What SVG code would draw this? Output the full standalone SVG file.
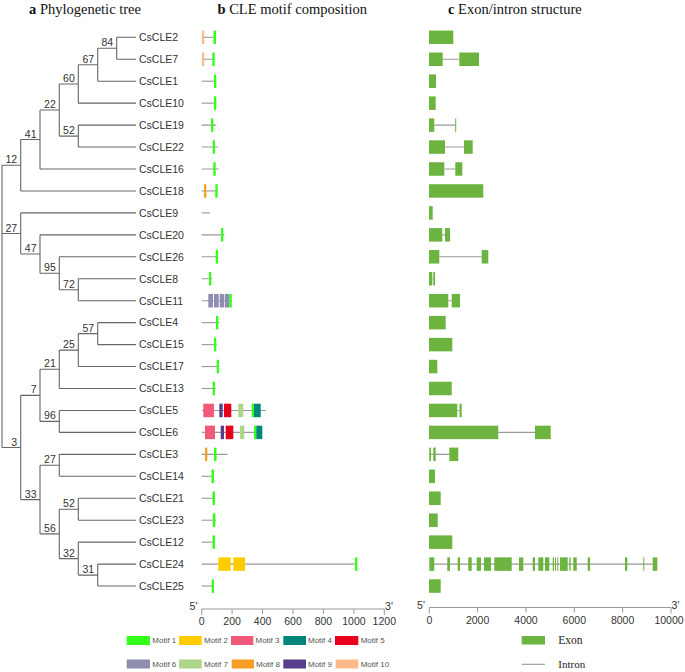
<svg xmlns="http://www.w3.org/2000/svg" width="685" height="672" viewBox="0 0 685 672">
<style>
text{font-family:"Liberation Sans",Arial,sans-serif;fill:#333}
.lf{font-size:10.5px}
.bs{font-size:10.5px;text-anchor:end}
.ti{font-family:"Liberation Serif","Times New Roman",serif;font-size:14.5px;fill:#111}
.ti tspan.b{font-weight:bold}
.tk{font-size:10.5px;text-anchor:middle}
.lg{font-size:8px;fill:#555}
.sl{font-family:"Liberation Serif","Times New Roman",serif;font-size:11.5px;fill:#222}
.tree{fill:none;stroke:#666;stroke-width:1.1}
.ln{stroke:#999;stroke-width:1.1;fill:none}
.ax{stroke:#999;stroke-width:1;fill:none}
.m1{fill:#33FF1A}.m2{fill:#FFCC00}.m3{fill:#F0597A}.m4{fill:#00857A}.m5{fill:#E8001C}
.m6{fill:#8F8DB0}.m7{fill:#ADD68A}.m8{fill:#F5A023}.m9{fill:#583F8C}.m10{fill:#FBBA8B}
.ex{fill:#6DB33F}
</style>
<rect width="685" height="672" fill="#fff"/>
<g id="titles">
<text class="ti" x="29" y="13.5"><tspan class="b">a</tspan> Phylogenetic tree</text>
<text class="ti" x="217.5" y="13.5"><tspan class="b">b</tspan> CLE motif composition</text>
<text class="ti" x="448" y="13.5"><tspan class="b">c</tspan> Exon/intron structure</text>
</g>
<g id="connectors">
<path class="tree" d="M116.7,37.3H136M116.7,59.25H136M97.7,81.2H136M78.3,103.15H136M78.3,125.1H136M78.3,147.05H136M40,169H136M20.7,190.95H136M20.7,212.9H136M40,234.85H136M59.3,256.8H136M78.3,278.75H136M78.3,300.7H136M97.7,322.65H136M97.7,344.6H136M78.3,366.55H136M59.3,388.5H136M59.3,410.45H136M59.3,432.4H136M59.3,454.35H136M59.3,476.3H136M78.3,498.25H136M78.3,520.2H136M78.3,542.15H136M97.7,564.1H136M97.7,586.05H136
M97.7,48.3H116.7M78.3,64.75H97.7M59.3,83.95H78.3M59.3,136.1H78.3M40,110H59.3M20.7,139.5H40M2,165.2H20.7M2,233.5H20.7M20.7,254.05H40M40,273.25H59.3M59.3,289.7H78.3M78.3,333.6H97.7M59.3,350.1H78.3M40,369.3H59.3M40,421.4H59.3M20.7,395.35H40M2,447.5H20.7M40,465.3H59.3M20.7,499.6H40M59.3,509.2H78.3M40,533.9H59.3M59.3,558.6H78.3M78.3,575.1H97.7
M116.7,37.3V59.25M97.7,48.3V81.2M78.3,64.75V103.15M78.3,125.1V147.05M59.3,83.95V136.1M40,110V169M20.7,139.5V190.95M2,165.2V447.5M20.7,212.9V254.05M40,234.85V273.25M59.3,256.8V289.7M78.3,278.75V300.7M97.7,322.65V344.6M78.3,333.6V366.55M59.3,350.1V388.5M59.3,410.45V432.4M40,369.3V421.4M20.7,395.35V499.6M59.3,454.35V476.3M40,465.3V533.9M78.3,498.25V520.2M59.3,509.2V558.6M78.3,542.15V575.1M97.7,564.1V586.05"/>
</g>
<g id="bootstrap">
<text class="bs" x="113.2" y="46.3">84</text>
<text class="bs" x="94.2" y="62.75">67</text>
<text class="bs" x="74.8" y="81.95">60</text>
<text class="bs" x="74.8" y="134.1">52</text>
<text class="bs" x="55.8" y="108">22</text>
<text class="bs" x="36.5" y="137.5">41</text>
<text class="bs" x="17.2" y="163.2">12</text>
<text class="bs" x="17.2" y="231.5">27</text>
<text class="bs" x="36.5" y="252.05">47</text>
<text class="bs" x="55.8" y="271.25">95</text>
<text class="bs" x="74.8" y="287.7">72</text>
<text class="bs" x="94.2" y="331.6">57</text>
<text class="bs" x="74.8" y="348.1">25</text>
<text class="bs" x="55.8" y="367.3">21</text>
<text class="bs" x="36.5" y="393.35">7</text>
<text class="bs" x="55.8" y="419.4">96</text>
<text class="bs" x="17.2" y="445.5">3</text>
<text class="bs" x="55.8" y="463.3">27</text>
<text class="bs" x="36.5" y="497.6">33</text>
<text class="bs" x="74.8" y="507.2">52</text>
<text class="bs" x="55.8" y="531.9">56</text>
<text class="bs" x="74.8" y="556.6">32</text>
<text class="bs" x="94.2" y="573.1">31</text>
</g>
<g id="CsCLE2"><text class="lf" x="139" y="41.1">CsCLE2</text><path class="ln" d="M201.7,37.3H216"/><rect class="m10" x="202" y="30.55" width="2.3" height="13.5"/><rect class="m1" x="213.5" y="30.55" width="2.5" height="13.5"/><rect class="ex" x="429" y="30.55" width="24.3" height="13.5"/></g>
<g id="CsCLE7"><text class="lf" x="139" y="63.05">CsCLE7</text><path class="ln" d="M201.7,59.25H214.7M442.7,59.25H459.3"/><rect class="m10" x="202" y="52.5" width="2.3" height="13.5"/><rect class="m1" x="212.3" y="52.5" width="2.4" height="13.5"/><rect class="ex" x="429" y="52.5" width="13.7" height="13.5"/><rect class="ex" x="459.3" y="52.5" width="19.7" height="13.5"/></g>
<g id="CsCLE1"><text class="lf" x="139" y="85">CsCLE1</text><path class="ln" d="M201.7,81.2H216.3"/><rect class="m1" x="214" y="74.45" width="2.3" height="13.5"/><rect class="ex" x="429" y="74.45" width="7" height="13.5"/></g>
<g id="CsCLE10"><text class="lf" x="139" y="106.95">CsCLE10</text><path class="ln" d="M201.7,103.15H216.3"/><rect class="m1" x="214" y="96.4" width="2.3" height="13.5"/><rect class="ex" x="429" y="96.4" width="6.7" height="13.5"/></g>
<g id="CsCLE19"><text class="lf" x="139" y="128.9">CsCLE19</text><path class="ln" d="M201.7,125.1H216M434.3,125.1H455.7"/><rect class="m1" x="211" y="118.35" width="2.3" height="13.5"/><rect class="ex" x="429" y="118.35" width="5.3" height="13.5"/><rect class="ex" x="455.2" y="118.35" width="1" height="13.5"/></g>
<g id="CsCLE22"><text class="lf" x="139" y="150.85">CsCLE22</text><path class="ln" d="M201.7,147.05H218M445,147.05H464"/><rect class="m1" x="212.7" y="140.3" width="2.3" height="13.5"/><rect class="ex" x="429" y="140.3" width="16" height="13.5"/><rect class="ex" x="464" y="140.3" width="8.7" height="13.5"/></g>
<g id="CsCLE16"><text class="lf" x="139" y="172.8">CsCLE16</text><path class="ln" d="M201.7,169H218.7M444.3,169H455.3"/><rect class="m1" x="213.3" y="162.25" width="2.4" height="13.5"/><rect class="ex" x="429" y="162.25" width="15.3" height="13.5"/><rect class="ex" x="455.3" y="162.25" width="7" height="13.5"/></g>
<g id="CsCLE18"><text class="lf" x="139" y="194.75">CsCLE18</text><path class="ln" d="M201.7,190.95H218"/><rect class="m8" x="204" y="184.2" width="2.3" height="13.5"/><rect class="m1" x="215.3" y="184.2" width="2.4" height="13.5"/><rect class="ex" x="429" y="184.2" width="54.3" height="13.5"/></g>
<g id="CsCLE9"><text class="lf" x="139" y="216.7">CsCLE9</text><path class="ln" d="M201.7,212.9H210"/><rect class="ex" x="429" y="206.15" width="3.7" height="13.5"/></g>
<g id="CsCLE20"><text class="lf" x="139" y="238.65">CsCLE20</text><path class="ln" d="M201.7,234.85H224.3M442.3,234.85H445"/><rect class="m1" x="221" y="228.1" width="2.3" height="13.5"/><rect class="ex" x="429" y="228.1" width="13.3" height="13.5"/><rect class="ex" x="445" y="228.1" width="5" height="13.5"/></g>
<g id="CsCLE26"><text class="lf" x="139" y="260.6">CsCLE26</text><path class="ln" d="M201.7,256.8H218.3M439.3,256.8H481.7"/><rect class="m1" x="215.7" y="250.05" width="2.3" height="13.5"/><rect class="ex" x="429" y="250.05" width="10.3" height="13.5"/><rect class="ex" x="481.7" y="250.05" width="6.6" height="13.5"/></g>
<g id="CsCLE8"><text class="lf" x="139" y="282.55">CsCLE8</text><path class="ln" d="M201.7,278.75H212M432.3,278.75H433.3"/><rect class="m1" x="209" y="272" width="2.3" height="13.5"/><rect class="ex" x="429" y="272" width="3.3" height="13.5"/><rect class="ex" x="433.3" y="272" width="1.7" height="13.5"/></g>
<g id="CsCLE11"><text class="lf" x="139" y="304.5">CsCLE11</text><path class="ln" d="M201.7,300.7H232.3M448.3,300.7H451.7"/><rect class="m6" x="208.3" y="293.95" width="4.7" height="13.5"/><rect class="m6" x="214" y="293.95" width="4.7" height="13.5"/><rect class="m6" x="219.7" y="293.95" width="4.6" height="13.5"/><rect class="m6" x="225" y="293.95" width="4.3" height="13.5"/><rect class="m1" x="229.3" y="293.95" width="2.5" height="13.5"/><rect class="ex" x="429" y="293.95" width="19.3" height="13.5"/><rect class="ex" x="451.7" y="293.95" width="8.3" height="13.5"/></g>
<g id="CsCLE4"><text class="lf" x="139" y="326.45">CsCLE4</text><path class="ln" d="M201.7,322.65H219.3"/><rect class="m1" x="216" y="315.9" width="2.3" height="13.5"/><rect class="ex" x="429" y="315.9" width="16.7" height="13.5"/></g>
<g id="CsCLE15"><text class="lf" x="139" y="348.4">CsCLE15</text><path class="ln" d="M201.7,344.6H216.7"/><rect class="m1" x="214" y="337.85" width="2.3" height="13.5"/><rect class="ex" x="429" y="337.85" width="23.3" height="13.5"/></g>
<g id="CsCLE17"><text class="lf" x="139" y="370.35">CsCLE17</text><path class="ln" d="M201.7,366.55H219.3"/><rect class="m1" x="216.7" y="359.8" width="2.3" height="13.5"/><rect class="ex" x="429" y="359.8" width="8.3" height="13.5"/></g>
<g id="CsCLE13"><text class="lf" x="139" y="392.3">CsCLE13</text><path class="ln" d="M201.7,388.5H215.7"/><rect class="m1" x="212.7" y="381.75" width="2.3" height="13.5"/><rect class="ex" x="429" y="381.75" width="22.7" height="13.5"/></g>
<g id="CsCLE5"><text class="lf" x="139" y="414.25">CsCLE5</text><path class="ln" d="M201.7,410.45H266M457.3,410.45H459.5"/><rect class="m3" x="203.3" y="403.7" width="10.7" height="13.5"/><rect class="m9" x="219.3" y="403.7" width="3.4" height="13.5"/><rect class="m5" x="224" y="403.7" width="7.3" height="13.5"/><rect class="m7" x="238.3" y="403.7" width="5" height="13.5"/><rect class="m1" x="251.7" y="403.7" width="2.3" height="13.5"/><rect class="m4" x="254" y="403.7" width="6.7" height="13.5"/><rect class="ex" x="429" y="403.7" width="28.3" height="13.5"/><rect class="ex" x="459.5" y="403.7" width="2.2" height="13.5"/></g>
<g id="CsCLE6"><text class="lf" x="139" y="436.2">CsCLE6</text><path class="ln" d="M201.7,432.4H262.3M498.3,432.4H535"/><rect class="m3" x="205" y="425.65" width="10" height="13.5"/><rect class="m9" x="220.7" y="425.65" width="3.3" height="13.5"/><rect class="m5" x="225.7" y="425.65" width="7.6" height="13.5"/><rect class="m7" x="240" y="425.65" width="4.3" height="13.5"/><rect class="m1" x="254" y="425.65" width="2.3" height="13.5"/><rect class="m4" x="256.3" y="425.65" width="6" height="13.5"/><rect class="ex" x="429" y="425.65" width="69.3" height="13.5"/><rect class="ex" x="535" y="425.65" width="15.7" height="13.5"/></g>
<g id="CsCLE3"><text class="lf" x="139" y="458.15">CsCLE3</text><path class="ln" d="M201.7,454.35H227.3M429,454.35H449.3"/><rect class="m8" x="205" y="447.6" width="2.3" height="13.5"/><rect class="m1" x="214" y="447.6" width="2.5" height="13.5"/><rect class="ex" x="429.3" y="447.6" width="1.7" height="13.5"/><rect class="ex" x="433.3" y="447.6" width="2.4" height="13.5"/><rect class="ex" x="449.3" y="447.6" width="9" height="13.5"/></g>
<g id="CsCLE14"><text class="lf" x="139" y="480.1">CsCLE14</text><path class="ln" d="M201.7,476.3H214"/><rect class="m1" x="211.5" y="469.55" width="2.5" height="13.5"/><rect class="ex" x="429" y="469.55" width="6" height="13.5"/></g>
<g id="CsCLE21"><text class="lf" x="139" y="502.05">CsCLE21</text><path class="ln" d="M201.7,498.25H215"/><rect class="m1" x="212.5" y="491.5" width="2.5" height="13.5"/><rect class="ex" x="429" y="491.5" width="11.7" height="13.5"/></g>
<g id="CsCLE23"><text class="lf" x="139" y="524">CsCLE23</text><path class="ln" d="M201.7,520.2H216"/><rect class="m1" x="212.8" y="513.45" width="2.5" height="13.5"/><rect class="ex" x="429" y="513.45" width="8.7" height="13.5"/></g>
<g id="CsCLE12"><text class="lf" x="139" y="545.95">CsCLE12</text><path class="ln" d="M201.7,542.15H215"/><rect class="m1" x="212.5" y="535.4" width="2.5" height="13.5"/><rect class="ex" x="429" y="535.4" width="23.3" height="13.5"/></g>
<g id="CsCLE24"><text class="lf" x="139" y="567.9">CsCLE24</text><path class="ln" d="M201.7,564.1H356.7M429,564.1H657.3"/><rect class="m2" x="218.3" y="557.35" width="12.4" height="13.5"/><rect class="m2" x="233.3" y="557.35" width="11.7" height="13.5"/><rect class="m1" x="355" y="557.35" width="2.3" height="13.5"/>
<rect class="ex" x="429.3" y="557.35" width="5" height="13.5"/><rect class="ex" x="447.3" y="557.35" width="2.7" height="13.5"/><rect class="ex" x="457.7" y="557.35" width="2.3" height="13.5"/><rect class="ex" x="468.3" y="557.35" width="3.4" height="13.5"/><rect class="ex" x="476.7" y="557.35" width="4.3" height="13.5"/><rect class="ex" x="484" y="557.35" width="7" height="13.5"/><rect class="ex" x="494.3" y="557.35" width="17.4" height="13.5"/><rect class="ex" x="519" y="557.35" width="4.3" height="13.5"/><rect class="ex" x="532.7" y="557.35" width="2.3" height="13.5"/><rect class="ex" x="538.3" y="557.35" width="5" height="13.5"/><rect class="ex" x="545" y="557.35" width="4.3" height="13.5"/><rect class="ex" x="552.7" y="557.35" width="1.3" height="13.5"/><rect class="ex" x="555" y="557.35" width="1" height="13.5"/><rect class="ex" x="557.3" y="557.35" width="1" height="13.5"/><rect class="ex" x="560" y="557.35" width="7.7" height="13.5"/><rect class="ex" x="569.3" y="557.35" width="1.4" height="13.5"/><rect class="ex" x="573.3" y="557.35" width="3.4" height="13.5"/><rect class="ex" x="587.7" y="557.35" width="2.3" height="13.5"/><rect class="ex" x="625" y="557.35" width="2.3" height="13.5"/><rect class="ex" x="643.3" y="557.35" width="1" height="13.5"/><rect class="ex" x="652.7" y="557.35" width="4.6" height="13.5"/></g>
<g id="CsCLE25"><text class="lf" x="139" y="589.85">CsCLE25</text><path class="ln" d="M201.7,586.05H214"/><rect class="m1" x="211.7" y="579.3" width="2.3" height="13.5"/><rect class="ex" x="429" y="579.3" width="11.7" height="13.5"/></g>
<g id="motif-axis">
<path class="ax" d="M201.7,615V609H384.3V615M232.1,609V614M262.6,609V614M293,609V614M323.4,609V614M353.9,609V614"/>
<text class="tk" x="193.5" y="610">5'</text><text class="tk" x="389" y="610">3'</text>
<text class="tk" x="201.7" y="624.5">0</text><text class="tk" x="232.1" y="624.5">200</text><text class="tk" x="262.6" y="624.5">400</text><text class="tk" x="293" y="624.5">600</text><text class="tk" x="323.4" y="624.5">800</text><text class="tk" x="353.9" y="624.5">1000</text><text class="tk" x="384.3" y="624.5">1200</text>
</g>
<g id="exon-axis">
<path class="ax" d="M429.3,613.5V607.5H671V613.5M477.6,607.5V612.5M526,607.5V612.5M574.3,607.5V612.5M622.6,607.5V612.5"/>
<text class="tk" x="421" y="609">5'</text><text class="tk" x="675.5" y="609">3'</text>
<text class="tk" x="429.3" y="623.5">0</text><text class="tk" x="477.6" y="623.5">2000</text><text class="tk" x="526" y="623.5">4000</text><text class="tk" x="574.3" y="623.5">6000</text><text class="tk" x="622.6" y="623.5">8000</text><text class="tk" x="669" y="623.5">10000</text>
</g>
<g id="motif-legend">
<rect class="m1" x="126.7" y="636" width="23.3" height="9"/><text class="lg" x="152.3" y="643">Motif 1</text>
<rect class="m2" x="179" y="636" width="22.7" height="9"/><text class="lg" x="204" y="643">Motif 2</text>
<rect class="m3" x="231" y="636" width="22.3" height="9"/><text class="lg" x="255.5" y="643">Motif 3</text>
<rect class="m4" x="283.3" y="636" width="22.7" height="9"/><text class="lg" x="308" y="643">Motif 4</text>
<rect class="m5" x="335" y="636" width="23.3" height="9"/><text class="lg" x="360.7" y="643">Motif 5</text>
<rect class="m6" x="126.7" y="659.5" width="23.3" height="9"/><text class="lg" x="152.3" y="666.5">Motif 6</text>
<rect class="m7" x="179" y="659.5" width="22.7" height="9"/><text class="lg" x="204" y="666.5">Motif 7</text>
<rect class="m8" x="231.7" y="659.5" width="22.3" height="9"/><text class="lg" x="256" y="666.5">Motif 8</text>
<rect class="m9" x="283.3" y="659.5" width="22.7" height="9"/><text class="lg" x="308" y="666.5">Motif 9</text>
<rect class="m10" x="335.7" y="659.5" width="22.7" height="9"/><text class="lg" x="360.7" y="666.5">Motif 10</text>
</g>
<g id="exon-legend">
<rect class="ex" x="521.7" y="636" width="23.3" height="8.5"/><text class="sl" x="558.3" y="644">Exon</text>
<path class="ln" d="M521.7,664.3H545"/><text class="sl" x="558.3" y="668" style="font-size:11px">Intron</text>
</g>
</svg>
